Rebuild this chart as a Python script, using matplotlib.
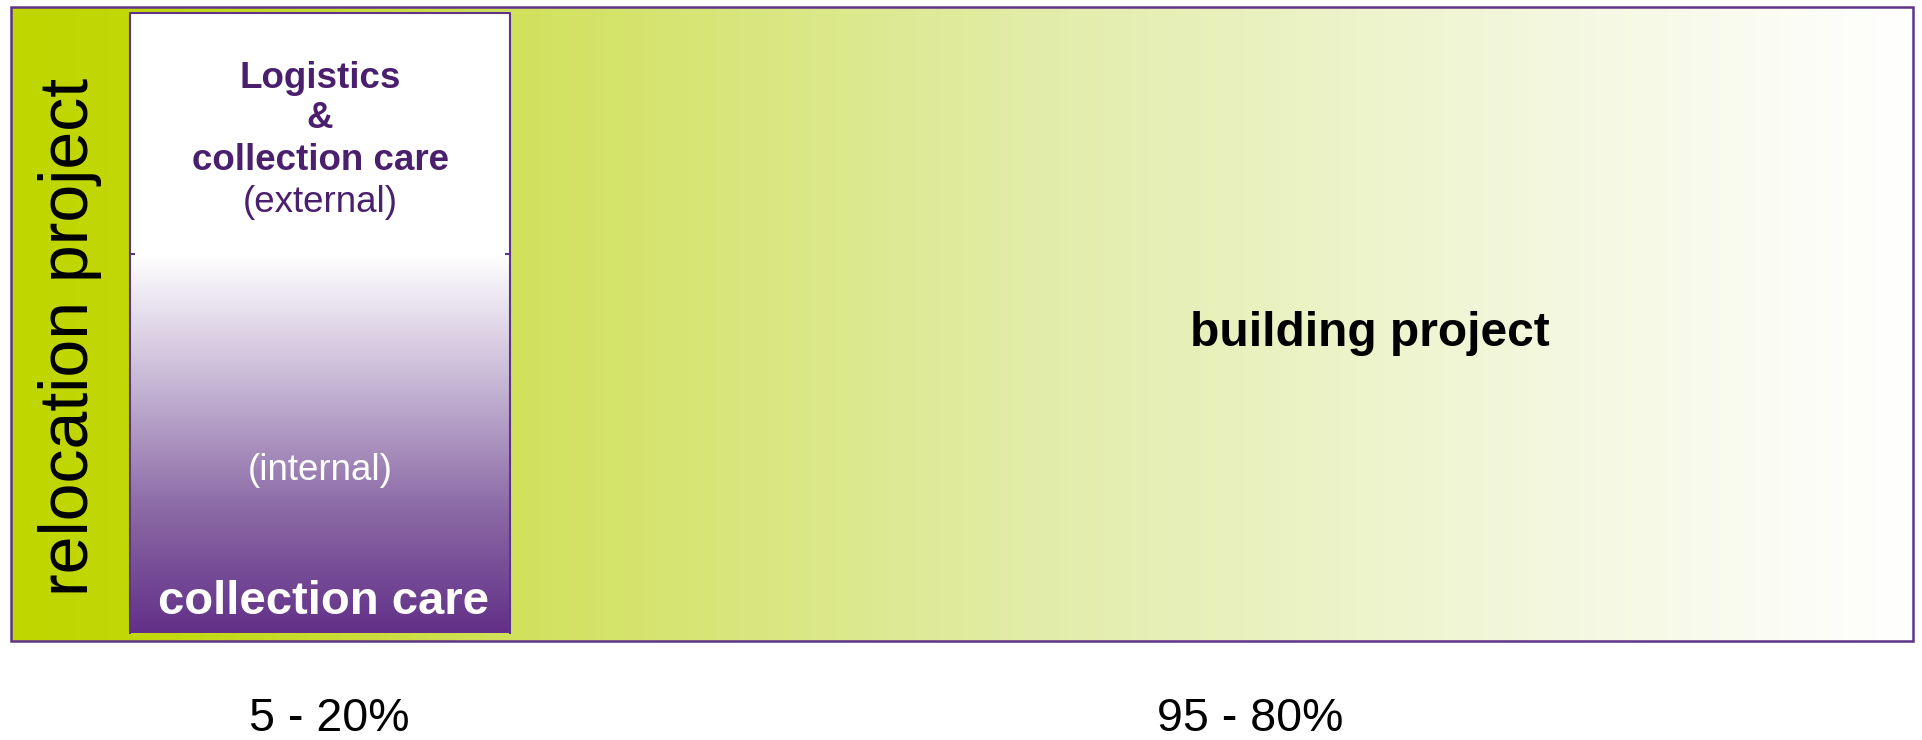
import numpy as np
import matplotlib.pyplot as plt
from matplotlib.colors import LinearSegmentedColormap
from matplotlib.patches import Rectangle

plt.rcParams['font.family'] = ['Liberation Sans', 'DejaVu Sans']

# shares of the relocation project
share_labels = ['5 - 20%', '95 - 80%']
part_names = ['collection care', 'building project']
side_label = 'relocation project'
external_lines = ['Logistics', '&', 'collection care']
external_note = '(external)'
internal_note = '(internal)'

W, H = 1922, 740
purple = '#5e3488'
text_purple = '#4a1f6d'

fig = plt.figure(figsize=(W / 100, H / 100), dpi=100)
ax = fig.add_axes([0, 0, 1, 1])
ax.set_xlim(0, W)
ax.set_ylim(H, 0)
ax.axis('off')

# outer box: green -> white gradient
x0, x1, y0, y1 = 11, 1913, 7, 641
green = LinearSegmentedColormap.from_list(
    'green', [(0, '#bfd600'), (0.065, '#c2d808'), (0.26, '#d1e15b'),
              (0.55, '#e3edab'), (0.8, '#f3f7dc'), (1, '#ffffff')])
grad = np.linspace(0, 1, 512).reshape(1, -1)
ax.imshow(grad, cmap=green, extent=[x0, x1, y1, y0], aspect='auto', zorder=1)
ax.add_patch(Rectangle((x0, y0), x1 - x0, y1 - y0, fill=False,
                       edgecolor=purple, lw=1.8, zorder=5))

# inner box: white top, white -> purple bottom
bx0, bx1, by0, bmid, by1 = 130, 510, 13, 254, 633
ax.add_patch(Rectangle((bx0, by0), bx1 - bx0, bmid - by0, facecolor='white',
                       edgecolor='none', zorder=2))
violet = LinearSegmentedColormap.from_list('violet', ['#ffffff', '#c8b8d6', '#8c6ba6', '#623088'])
vgrad = np.linspace(0, 1, 512).reshape(-1, 1)
ax.imshow(vgrad, cmap=violet, extent=[bx0, bx1, by1, bmid], aspect='auto', zorder=2)
ax.plot([bx0, bx0, bx1, bx1], [by1, by0, by0, by1], color=purple, lw=1.5, zorder=4)
ax.plot([bx0, bx0 + 4], [bmid, bmid], color=purple, lw=1.5, zorder=4)
ax.plot([bx1 - 4, bx1], [bmid, bmid], color=purple, lw=1.5, zorder=4)
ax.set_xlim(0, W)
ax.set_ylim(H, 0)

cx = (bx0 + bx1) / 2
ax.text(70, 337, side_label, rotation=90, ha='center', va='center',
        fontsize=49, color='black', zorder=6)
for y, line in zip([78, 118, 160], external_lines):
    ax.text(cx, y, line, ha='center', va='center', fontsize=26.5,
            fontweight='bold', color=text_purple, zorder=6)
ax.text(cx, 202, external_note, ha='center', va='center', fontsize=26.5,
        color=text_purple, zorder=6)
ax.text(cx, 471, internal_note, ha='center', va='center', fontsize=26.5,
        color='white', zorder=6)
ax.text(cx + 4, 602, part_names[0], ha='center', va='center', fontsize=34,
        fontweight='bold', color='white', zorder=6)
ax.text(1370, 333, part_names[1], ha='center', va='center', fontsize=34.5,
        fontweight='bold', color='black', zorder=6)

for x, lab in zip([329, 1250], share_labels):
    ax.text(x, 719, lab, ha='center', va='center', fontsize=33.5, color='black')

fig.savefig('out.png', dpi=100, facecolor='white')
